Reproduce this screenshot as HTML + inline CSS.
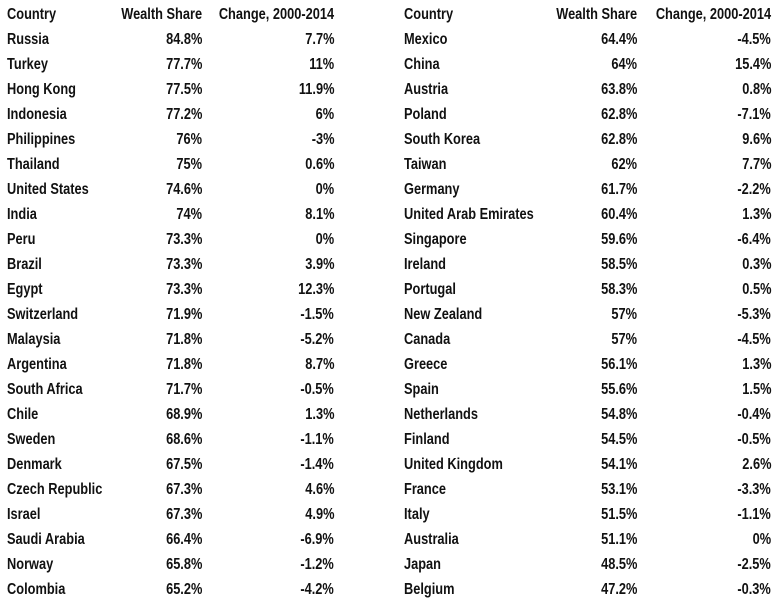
<!DOCTYPE html>
<html><head><meta charset="utf-8"><style>
html,body{margin:0;padding:0;background:#fff;}
#wrap{position:relative;width:784px;height:606px;overflow:hidden;font-family:"Liberation Sans",sans-serif;font-weight:bold;font-size:16px;color:#111;}
.c{position:absolute;height:25px;line-height:25px;white-space:nowrap;font-weight:bold;transform:scaleX(0.8);transform-origin:left center;}
.r{text-align:right;transform-origin:right center;}
</style></head><body>
<div id="wrap"></div>
<script>
const countriesL=["Russia","Turkey","Hong Kong","Indonesia","Philippines","Thailand","United States","India","Peru","Brazil","Egypt","Switzerland","Malaysia","Argentina","South Africa","Chile","Sweden","Denmark","Czech Republic","Israel","Saudi Arabia","Norway","Colombia"];
const sharesL=["84.8%","77.7%","77.5%","77.2%","76%","75%","74.6%","74%","73.3%","73.3%","73.3%","71.9%","71.8%","71.8%","71.7%","68.9%","68.6%","67.5%","67.3%","67.3%","66.4%","65.8%","65.2%"];
const changesL=["7.7%","11%","11.9%","6%","-3%","0.6%","0%","8.1%","0%","3.9%","12.3%","-1.5%","-5.2%","8.7%","-0.5%","1.3%","-1.1%","-1.4%","4.6%","4.9%","-6.9%","-1.2%","-4.2%"];
const countriesR=["Mexico","China","Austria","Poland","South Korea","Taiwan","Germany","United Arab Emirates","Singapore","Ireland","Portugal","New Zealand","Canada","Greece","Spain","Netherlands","Finland","United Kingdom","France","Italy","Australia","Japan","Belgium"];
const sharesR=["64.4%","64%","63.8%","62.8%","62.8%","62%","61.7%","60.4%","59.6%","58.5%","58.3%","57%","57%","56.1%","55.6%","54.8%","54.5%","54.1%","53.1%","51.5%","51.1%","48.5%","47.2%"];
const changesR=["-4.5%","15.4%","0.8%","-7.1%","9.6%","7.7%","-2.2%","1.3%","-6.4%","0.3%","0.5%","-5.3%","-4.5%","1.3%","1.5%","-0.4%","-0.5%","2.6%","-3.3%","-1.1%","0%","-2.5%","-0.3%"];
const wrap=document.getElementById('wrap');
function cell(text,left,right,row,name){
  const d=document.createElement('div');
  d.className='c'+(right!==null?' r':'');
  d.textContent=text;
  d.style.top=(2+row*25)+'px';
  if(right!==null){d.style.right=(784-right)+'px';}else{d.style.left=left+'px';}
  
  
  wrap.appendChild(d);
}
function table(cs,ss,ch,x0,wr,cr,side){
  cell("Country",x0,null,0,side+'-country-header');
  cell("Wealth Share",0,wr,0,side+'-wealth-share-header');
  cell("Change, 2000-2014",0,cr,0,side+'-change-header');
  for(let i=0;i<cs.length;i++){
    cell(cs[i],x0,null,i+1,side+'-country-name');
    cell(ss[i],0,wr,i+1,side+'-wealth-share-value');
    cell(ch[i],0,cr,i+1,side+'-change-value');
  }
}
table(countriesL,sharesL,changesL,7,202,334,'left');
table(countriesR,sharesR,changesR,404,637,771,'right');
</script>
</body></html>
